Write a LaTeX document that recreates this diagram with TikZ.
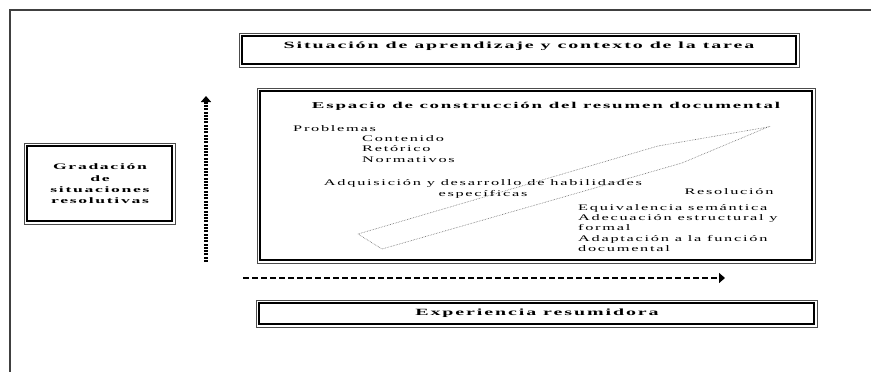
\documentclass[tikz,border=0pt]{standalone}
\usepackage{fontspec}
\setmainfont{Liberation Serif}[FakeStretch=2.1,LetterSpace=20]
\newfontfamily\textofont{Liberation Serif}[FakeStretch=1.9,LetterSpace=20]
\usetikzlibrary{positioning}
\usetikzlibrary{arrows.meta}
\tikzset{marco/.style={draw=black!70,
                       line width=0.8pt,
                       inner sep=0pt,
                       path picture={\draw[black, line width=2.2pt]
                           ([shift={(3pt,3pt)}]path picture bounding box.south west) rectangle
                           ([shift={(-3pt,-3pt)}]path picture bounding box.north east);}
                       },
        titulo/.style={font=\fontsize{9.5}{11.3}\selectfont\bfseries,
                       align=center,
                       inner sep=0pt
        },
        texto/.style={font=\textofont\fontsize{8.6}{10.2}\selectfont,
                       align=left,
                       inner sep=0pt
        },
        eje/.style={line width=3pt,
                       -{Triangle[length=6pt,width=10pt]}
        },
}

\begin{document}
\begin{tikzpicture}
    [x=1pt,y=-1pt]
    \useasboundingbox (0,0) rectangle (871,372);

    % FRAME
    \draw[line width=1.2pt, black!75] (10,372) -- (10,10) -- (871,10);

    % BOXES
    \node[marco, minimum width=560pt, minimum height=34pt] (tarea) at (519,50) {};
    \node[titulo] (tareaText) at (519,46) {Situación de aprendizaje y contexto de la tarea};

    \node[marco, minimum width=558pt, minimum height=175pt] (espacio) at (536,175.5) {};

    \node[marco, minimum width=151pt, minimum height=81pt] (gradacion) at (99.5,183.5) {};
    \node[titulo, font=\fontsize{8.4}{11.3}\selectfont\bfseries] (gradacionText) at (100,184) {Gradación\\de\\situaciones\\resolutivas};

    \node[marco, minimum width=561pt, minimum height=27pt] (experiencia) at (536.5,313.5) {};
    \node[titulo] (experienciaText) at (537,313) {Experiencia resumidora};

    % INSIDE THE SPACE
    \node[titulo, font=\fontsize{9}{11}\selectfont\bfseries] (espacioText) at (546,106) {Espacio de construcción del resumen documental};

    \node[texto, anchor=west] (problemas) at (293,129) {Problemas};
    \node[texto, anchor=west] (tipos) at (362,149) {Contenido\\Retórico\\Normativos};

    \node[texto, align=center] (adquisicion) at (483,189) {Adquisición y desarrollo de habilidades\\específicas};

    \node[texto] (resolucion) at (729,192) {Resolución};
    \node[texto, anchor=west] (criterios) at (578,228) {Equivalencia semántica\\Adecuación estructural y\\formal\\Adaptación a la función\\documental};

    \draw[densely dotted, black!60, line width=0.6pt]
        (358,234) -- (658,146) -- (768,127) -- (682,163) -- (382,249) -- cycle;

    % AXES
    \coordinate (vbase) at (206,262);
    \coordinate (vtip) at (206,96);
    \coordinate (hbase) at (243,278);
    \coordinate (htip) at (725,278);

    \draw[eje, line width=4pt, dash pattern=on 2pt off 1.3pt] (vbase) -- (vtip);
    \draw[eje, line width=2.6pt, dash pattern=on 6pt off 3pt] (hbase) -- (htip);

\end{tikzpicture}
\end{document}
